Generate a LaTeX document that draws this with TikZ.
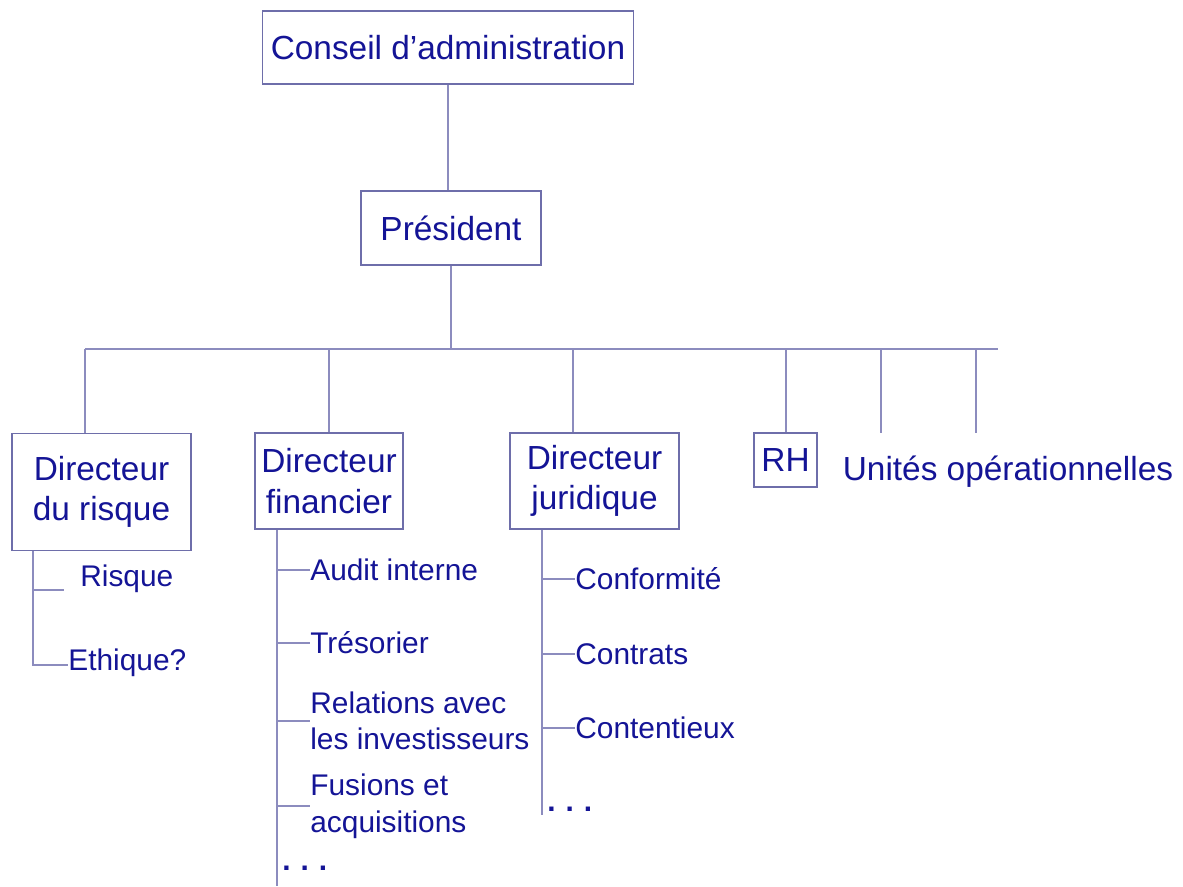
\documentclass[tikz,border=0pt]{standalone}
\usepackage{fontspec}
\setmainfont{Liberation Sans}
\definecolor{txtblue}{RGB}{20,20,150}
\definecolor{linblue}{RGB}{140,140,190}
\definecolor{boxblue}{RGB}{110,110,170}

\begin{document}
\begin{tikzpicture}[x=0.02cm, y=-0.02cm,
  box/.style = {draw=boxblue, line width=1pt, fill=white, text=txtblue, align=center, inner sep=0pt, font=\fontsize{19}{23}\selectfont},
  item/.style = {anchor=west, text=txtblue, align=left, inner sep=0pt, font=\fontsize{17}{20.8}\selectfont},
  ln/.style = {draw=linblue, line width=1.1pt}]

\useasboundingbox (0,0) rectangle (1183,886);

%% boxes
\node[box, minimum width=7.42cm, minimum height=1.46cm] (ca) at (448,47.5) {Conseil d’administration};
\node[box, minimum width=3.6cm, minimum height=1.48cm] (pres) at (451,228) {Président};
\node[box, minimum width=3.58cm, minimum height=2.34cm] (risk) at (101.5,492) {Directeur\\du risque};
\node[box, minimum width=2.96cm, minimum height=1.92cm] (fin) at (329,481) {Directeur\\financier};
\node[box, minimum width=3.38cm, minimum height=1.92cm] (jur) at (594.5,481) {Directeur\\juridique};
\node[box, minimum width=1.26cm, minimum height=1.08cm] (rh) at (785.5,460) {RH};
\node[box, draw=none, fill=none] (uo) at (1008,472) {Unités opérationnelles};

%% bus
\coordinate (busL) at (85,349);
\coordinate (busR) at (998,349);
\coordinate (u1) at (881,433);
\coordinate (u2) at (976,433);

%%% edges
\draw[ln] (ca.south) -- (ca.south |- pres.north);
\draw[ln] (pres.south) -- (pres.south |- busL);
\draw[ln] (busL) -- (busR);
\foreach \x/\n in {85/risk, 329/fin, 573/jur, 786/rh}
  \draw[ln] (\x,349) -- (\x,0 |- \n.north);
\draw[ln] (u1 |- busL) -- (u1);
\draw[ln] (u2 |- busL) -- (u2);

%% directeur du risque
\coordinate (rspine) at (33,665);
\node[item] (rsq) at (80,579) {Risque};
\node[item] (eth) at (68,663) {Ethique?};
\coordinate (rs) at (64,590);
\draw[ln] (rspine |- risk.south) -- (rspine) -- (rspine -| eth.west);
\draw[ln] (rs -| rspine) -- (rs);

%% directeur financier
\coordinate (fspine) at (277,886);
\node[item] (aud) at (310,570) {Audit interne};
\node[item] (tres) at (310,643) {Trésorier};
\node[item] (rel) at (310,721) {Relations avec\\les investisseurs};
\node[item] (fus) at (310,806) {Fusions et\\acquisitions};
\node[item, font=\fontsize{17}{20.8}\bfseries] (fdots) at (282,868) {.\,\,.\,\,.};
\draw[ln] (fspine |- fin.south) -- (fspine);
\foreach \n in {aud, tres, rel, fus}
  \draw[ln] (\n.west -| fspine) -- (\n.west);

%% directeur juridique
\coordinate (jspine) at (542,815);
\node[item] (conf) at (575,579) {Conformité};
\node[item] (contr) at (575,654) {Contrats};
\node[item] (cont) at (575,728) {Contentieux};
\node[item, font=\fontsize{17}{20.8}\bfseries] (jdots) at (547,809) {.\,\,.\,\,.};
\draw[ln] (jspine |- jur.south) -- (jspine);
\foreach \n in {conf, contr, cont}
  \draw[ln] (\n.west -| jspine) -- (\n.west);

\end{tikzpicture}
\end{document}
